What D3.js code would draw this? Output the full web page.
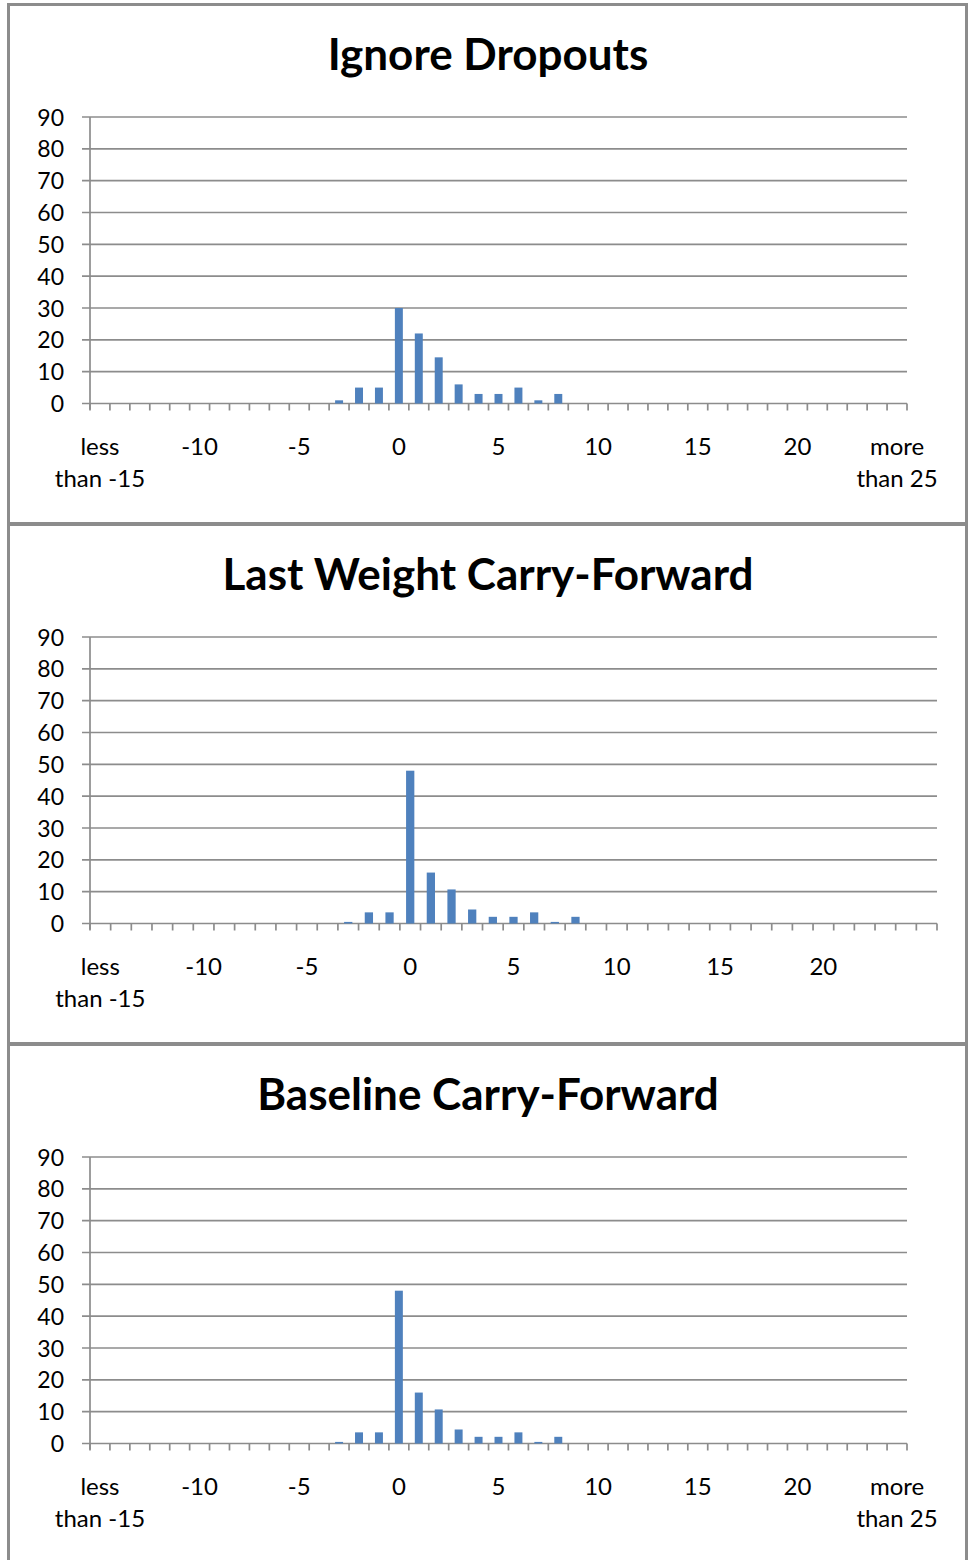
<!DOCTYPE html>
<html>
<head>
<meta charset="utf-8">
<script src="https://cdn.jsdelivr.net/npm/d3@7"></script>
<style>
  body { margin: 0; background: #fff; }
  svg { display: block; }
  text { font-family: Lato, "Open Sans", sans-serif; fill: #000; }
</style>
</head>
<body>
<svg id="chart" width="969" height="1560"></svg>
<script>
// weight change buckets (lbs)
const categories = [
  "less than -15", "-14", "-13", "-12", "-11", "-10", "-9", "-8", "-7", "-6",
  "-5", "-4", "-3", "-2", "-1", "0", "1", "2", "3", "4",
  "5", "6", "7", "8", "9", "10", "11", "12", "13", "14",
  "15", "16", "17", "18", "19", "20", "21", "22", "23", "24",
  "more than 25"
]

const ignoreDropouts = [
  0, 0, 0, 0, 0, 0, 0, 0, 0, 0,
  0, 0, 1, 5, 5, 30, 22, 14.5, 6, 3,
  3, 5, 1, 3, 0, 0, 0, 0, 0, 0,
  0, 0, 0, 0, 0, 0, 0, 0, 0, 0,
  0
]

const lastWeightCF = [
  0, 0, 0, 0, 0, 0, 0, 0, 0, 0,
  0, 0, 0.5, 3.5, 3.5, 48, 16, 10.7, 4.4, 2.1,
  2.1, 3.5, 0.5, 2.1, 0, 0, 0, 0, 0, 0,
  0, 0, 0, 0, 0, 0, 0, 0, 0, 0,
  0
]

const baselineCF = [
  0, 0, 0, 0, 0, 0, 0, 0, 0, 0,
  0, 0, 0.5, 3.5, 3.5, 48, 16, 10.7, 4.4, 2.1,
  2.1, 3.5, 0.5, 2.1, 0, 0, 0, 0, 0, 0,
  0, 0, 0, 0, 0, 0, 0, 0, 0, 0,
  0
]

const yTicks = [0, 10, 20, 30, 40, 50, 60, 70, 80, 90]
// labelled categories, every 5th bucket
const labelCats = ["less than -15", "-10", "-5", "0", "5", "10", "15", "20", "more than 25"]
const tickLabels = [["less", "than -15"], ["-10"], ["-5"], ["0"], ["5"], ["10"], ["15"], ["20"], ["more", "than 25"]]
const lwcfTickLabels = [["less", "than -15"], ["-10"], ["-5"], ["0"], ["5"], ["10"], ["15"], ["20"], []]

const panels = [
  { title: "Ignore Dropouts", values: ignoreDropouts, labels: tickLabels, right: 907 },
  { title: "Last Weight Carry-Forward", values: lastWeightCF, labels: lwcfTickLabels, right: 937 },
  { title: "Baseline Carry-Forward", values: baselineCF, labels: tickLabels, right: 907 }
]

const svg = d3.select("#chart")
const gridColor = "#8c8c8c"
const barColor = "#4f81bd"

panels.forEach(function (p, i) {
  const top = i * 520
  const g = svg.append("g").attr("transform", `translate(0, ${top})`)

  g.append("rect")
    .attr("x", 8.5)
    .attr("y", 4.5)
    .attr("width", 958)
    .attr("height", 519)
    .attr("fill", "none")
    .attr("stroke", gridColor)
    .attr("stroke-width", 3)

  g.append("text")
    .attr("x", 488)
    .attr("y", 70)
    .attr("text-anchor", "middle")
    .style("font-size", "44px")
    .style("font-weight", "bold")
    .text(p.title)

  const left = 90
  const x = d3.scaleBand()
    .domain(categories)
    .range([left, p.right])
    .paddingInner(0.6)
    .paddingOuter(0.3)

  const y = d3.scaleLinear().domain([0, 90]).range([403.5, 117])

  // gridlines
  g.append("g")
    .selectAll("line")
    .data(yTicks)
    .join("line")
    .attr("x1", left - 8)
    .attr("x2", p.right)
    .attr("y1", (d) => y(d))
    .attr("y2", (d) => y(d))
    .attr("stroke", gridColor)
    .attr("stroke-width", 1.7)

  // y axis line
  g.append("line")
    .attr("x1", left)
    .attr("x2", left)
    .attr("y1", y(90))
    .attr("y2", y(0) + 6)
    .attr("stroke", gridColor)
    .attr("stroke-width", 1.7)

  g.append("g")
    .selectAll("text")
    .data(yTicks)
    .join("text")
    .attr("x", 64)
    .attr("y", (d) => y(d) + 8.5)
    .attr("text-anchor", "end")
    .style("font-size", "23px")
    .text((d) => d)

  // category boundary ticks
  const bounds = d3.scaleLinear().domain([0, categories.length]).range([left, p.right])
  g.append("g")
    .selectAll("line")
    .data(d3.range(categories.length + 1))
    .join("line")
    .attr("x1", (d) => bounds(d))
    .attr("x2", (d) => bounds(d))
    .attr("y1", y(0))
    .attr("y2", y(0) + 7)
    .attr("stroke", gridColor)
    .attr("stroke-width", 1.7)

  // bars
  g.append("g")
    .selectAll("rect")
    .data(p.values)
    .join("rect")
    .attr("x", (d, j) => x(categories[j]))
    .attr("width", x.bandwidth())
    .attr("y", (d) => y(d))
    .attr("height", (d) => y(0) - y(d))
    .attr("fill", barColor)

  // x labels
  const lab = g.append("g")
    .selectAll("text")
    .data(labelCats)
    .join("text")
    .attr("text-anchor", "middle")
    .style("font-size", "24px")

  lab.each(function (c, j) {
    const cx = x(c) + x.bandwidth() / 2
    d3.select(this)
      .selectAll("tspan")
      .data(p.labels[j])
      .join("tspan")
      .attr("x", cx)
      .attr("y", (d, k) => 455 + k * 32)
      .text((d) => d)
  })
})
</script>
</body>
</html>
